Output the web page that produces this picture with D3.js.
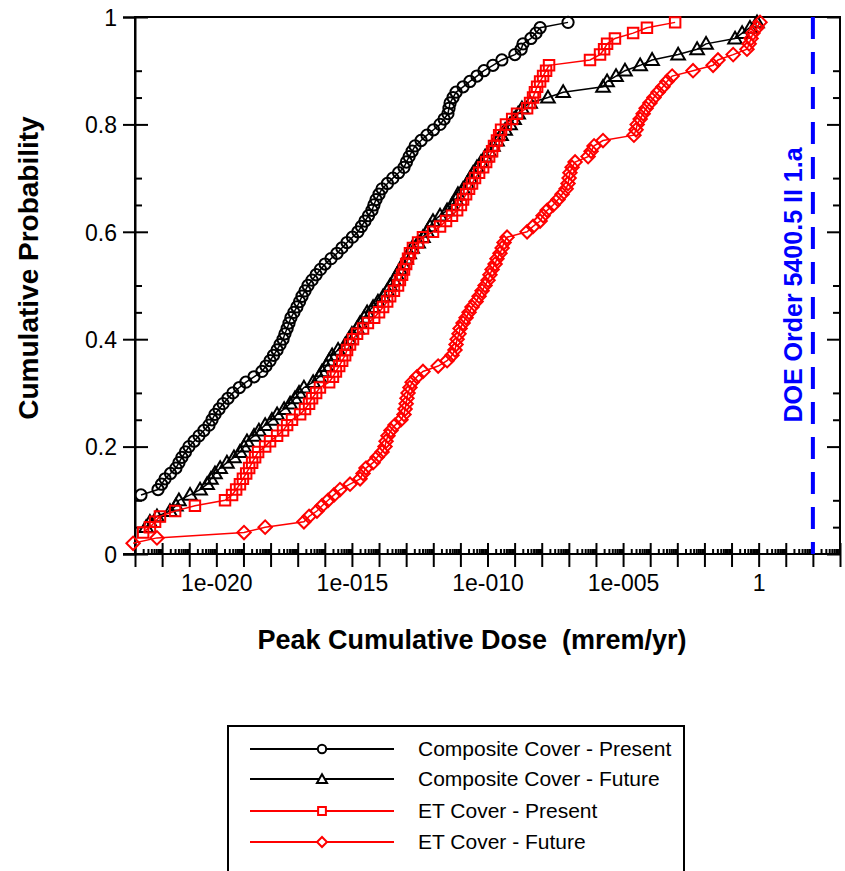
<!DOCTYPE html>
<html>
<head>
<meta charset="utf-8">
<script src="https://cdn.jsdelivr.net/npm/d3@7"></script>
<style>
  body { margin: 0; background: #fff; }
  svg { display: block; font-family: Arial, "Liberation Sans", sans-serif; }
</style>
</head>
<body>
<svg id="chart" width="845" height="871"></svg>
<script>

// log10 of peak cumulative dose (mrem/yr), sorted, one per realization
const compositePresent = [
    -22.78, -22.15, -22.02, -21.89, -21.69, -21.49, -21.38, -21.27, -21.14, -21.01,
    -20.82, -20.64, -20.46, -20.27, -20.16, -20.05, -19.90, -19.75, -19.57, -19.39,
    -19.15, -18.91, -18.61, -18.32, -18.17, -18.02, -17.89, -17.76, -17.65, -17.54,
    -17.47, -17.39, -17.32, -17.25, -17.14, -17.03, -16.93, -16.84, -16.73, -16.62,
    -16.47, -16.32, -16.16, -15.99, -15.77, -15.55, -15.37, -15.18, -14.98, -14.78,
    -14.65, -14.52, -14.39, -14.26, -14.19, -14.11, -14.00, -13.89, -13.69, -13.49,
    -13.28, -13.08, -12.99, -12.89, -12.78, -12.67, -12.45, -12.23, -11.99, -11.75,
    -11.60, -11.46, -11.42, -11.38, -11.27, -11.16, -10.90, -10.65, -10.39, -10.13,
    -9.80, -9.47, -8.99, -8.76, -8.69, -8.40, -8.21, -8.06, -7.03
];
const compositeFuture = [
    -22.59, -22.45, -22.19, -21.71, -21.49, -21.38, -20.97, -20.60, -20.34, -20.20,
    -20.05, -19.86, -19.61, -19.35, -19.13, -18.98, -18.87, -18.61, -18.43, -18.20,
    -17.95, -17.76, -17.50, -17.28, -17.10, -16.95, -16.77, -16.43, -16.21, -16.10,
    -15.95, -15.84, -15.73, -15.51, -15.25, -15.11, -15.00, -14.81, -14.70, -14.55,
    -14.44, -14.22, -14.04, -13.85, -13.70, -13.59, -13.45, -13.34, -13.23, -13.11,
    -13.00, -12.89, -12.78, -12.56, -12.38, -12.23, -12.12, -12.01, -11.75, -11.49,
    -11.31, -11.16, -11.09, -10.90, -10.75, -10.64, -10.53, -10.39, -10.24, -10.09,
    -9.94, -9.80, -9.65, -9.50, -9.35, -9.17, -9.02, -8.87, -8.73, -8.43,
    -7.77, -7.21, -5.74, -5.59, -5.26, -4.93, -4.37, -3.93, -2.97, -2.27,
    -1.94, -0.87, -0.61, -0.32, -0.06
];
const etPresent = [
    -22.70, -22.45, -22.26, -22.08, -21.52, -20.79, -19.68, -19.42, -19.27, -19.13,
    -19.02, -18.90, -18.79, -18.68, -18.57, -18.46, -18.20, -18.02, -17.76, -17.54,
    -17.39, -17.21, -16.91, -16.73, -16.58, -16.47, -16.32, -16.18, -15.84, -15.70,
    -15.59, -15.47, -15.36, -15.25, -15.18, -15.07, -14.96, -14.81, -14.59, -14.41,
    -14.18, -14.00, -13.85, -13.70, -13.59, -13.45, -13.30, -13.23, -13.15, -13.08,
    -13.00, -12.93, -12.86, -12.75, -12.56, -12.38, -12.01, -11.75, -11.53, -11.31,
    -11.12, -10.98, -10.90, -10.79, -10.68, -10.57, -10.46, -10.31, -10.16, -10.05,
    -9.94, -9.83, -9.76, -9.65, -9.57, -9.50, -9.32, -9.09, -8.91, -8.54,
    -8.43, -8.32, -8.25, -8.17, -8.06, -7.95, -7.84, -7.73, -6.22, -5.85,
    -5.70, -5.59, -5.30, -4.63, -4.12, -3.08
];
const etFuture = [
    -23.07, -22.19, -18.98, -18.20, -16.77, -16.58, -16.29, -16.10, -15.88, -15.66,
    -15.44, -15.07, -14.70, -14.59, -14.48, -14.22, -14.07, -13.89, -13.78, -13.74,
    -13.67, -13.56, -13.41, -13.19, -13.08, -13.04, -13.00, -12.97, -12.93, -12.86,
    -12.78, -12.60, -12.38, -11.82, -11.49, -11.31, -11.20, -11.16, -11.12, -11.05,
    -11.01, -10.90, -10.79, -10.68, -10.57, -10.42, -10.31, -10.20, -10.09, -9.98,
    -9.91, -9.83, -9.72, -9.65, -9.54, -9.46, -9.39, -9.28, -8.54, -8.32,
    -8.06, -7.95, -7.80, -7.58, -7.40, -7.25, -7.10, -7.03, -6.99, -6.96,
    -6.88, -6.77, -6.29, -6.18, -6.07, -5.74, -4.60, -4.52, -4.48, -4.37,
    -4.26, -4.15, -4.01, -3.86, -3.71, -3.53, -3.38, -3.19, -2.42, -1.68,
    -1.50, -0.94, -0.43, -0.35, -0.28, -0.21, -0.06, 0.05
];

// rank of the first plotted realization (the rest fall below the axis)
const seriesNames = ['Composite Cover - Present', 'Composite Cover - Future', 'ET Cover - Present', 'ET Cover - Future'];
const seriesValues = [compositePresent, compositeFuture, etPresent, etFuture];
const seriesFirstRank = [11, 5, 4, 2];
const realizations = 100;

const xTickValues = [1e-20, 1e-15, 1e-10, 1e-5, 1];
const xTickLabels = ['1e-020', '1e-015', '1e-010', '1e-005', '1'];
const yTickValues = [0, 0.2, 0.4, 0.6, 0.8, 1];
const yTickLabels = ['0', '0.2', '0.4', '0.6', '0.8', '1'];
const limitDose = 100;
const limitLabel = 'DOE Order 5400.5 II 1.a';

// ##################################################
// #  Layout                                        #
// ##################################################

let _left = 135, _right = 840, _top = 17, _bottom = 554;
let _fontTick = 23;
let styles = [
    { color: '#000', shape: 'circle' },
    { color: '#000', shape: 'triangle' },
    { color: '#ff0000', shape: 'square' },
    { color: '#ff0000', shape: 'diamond' }
];

let svg = d3.select('#chart');

let x = d3.scaleLog().domain([1e-23, 1e3]).range([_left, _right]);
let y = d3.scaleLinear().domain([0, 1]).range([_bottom, _top]);

function markerPath(shape, k) {
    if (shape === 'circle') return d3.symbol(d3.symbolCircle, 100 * k)();
    if (shape === 'triangle') return d3.symbol(d3.symbolTriangle, 80 * k)();
    if (shape === 'square') return d3.symbol(d3.symbolSquare, 110 * k)();
    return d3.symbol(d3.symbolSquare, 90 * k)();
}

function markerTransform(shape, px, py) {
    if (shape === 'diamond') return `translate(${px},${py}) rotate(45)`;
    if (shape === 'triangle') return `translate(${px},${py + 1})`;
    return `translate(${px},${py})`;
}

// ##################################################
// #  Axes                                          #
// ##################################################

let decades = d3.range(-23, 4).map(e => Math.pow(10, e));
let minors = [];
d3.range(-23, 3).forEach(e => {
    for (let m = 2; m <= 9; m++) minors.push(m * Math.pow(10, e));
});
let yMinors = d3.range(0, 21).map(i => i / 20).filter(v => Math.round(v * 10) % 2 !== 0);

function styleAxis(g) {
    g.select('.domain').attr('stroke', '#000').attr('stroke-width', 2);
    g.selectAll('.tick line').attr('stroke', '#000').attr('stroke-width', 2);
    g.selectAll('text').attr('font-size', _fontTick).attr('fill', '#000');
}

// frame
svg.append('rect')
    .attr('x', _left).attr('y', _top)
    .attr('width', _right - _left).attr('height', _bottom - _top)
    .attr('fill', 'none').attr('stroke', '#000').attr('stroke-width', 2);

// bottom: outward majors with labels
let xAxisG = svg.append('g')
    .attr('transform', `translate(0,${_bottom})`)
    .call(d3.axisBottom(x).tickValues(decades).tickSize(13)
        .tickFormat(d => {
            let i = xTickValues.findIndex(v => Math.abs(Math.log10(v) - Math.log10(d)) < 1e-6);
            return i >= 0 ? xTickLabels[i] : '';
        }))
    .call(styleAxis);
xAxisG.selectAll('text').attr('y', 37).attr('dy', null);
xAxisG.select('.domain').attr('d', `M${_left - 12},0H${_right}`);

svg.append('g')
    .attr('transform', `translate(0,${_bottom})`)
    .call(d3.axisBottom(x).tickValues(decades).tickSize(-11).tickFormat(''))
    .call(styleAxis)
    .select('.domain').remove();

svg.append('g')
    .attr('transform', `translate(0,${_bottom})`)
    .call(d3.axisBottom(x).tickValues(minors).tickSize(-5).tickFormat(''))
    .call(styleAxis)
    .select('.domain').remove();

// left
let yAxisG = svg.append('g')
    .attr('transform', `translate(${_left},0)`)
    .call(d3.axisLeft(y).tickValues(yTickValues).tickSize(12).tickPadding(6)
        .tickFormat((d, i) => yTickLabels[i]))
    .call(styleAxis);
yAxisG.selectAll('text').attr('dy', '0.36em');

svg.append('g')
    .attr('transform', `translate(${_left},0)`)
    .call(d3.axisLeft(y).tickValues(yTickValues).tickSize(-13).tickFormat(''))
    .call(styleAxis)
    .select('.domain').remove();

svg.append('g')
    .attr('transform', `translate(${_left},0)`)
    .call(d3.axisLeft(y).tickValues(yMinors).tickSize(-7).tickFormat(''))
    .call(styleAxis)
    .select('.domain').remove();

// right, inward only
svg.append('g')
    .attr('transform', `translate(${_right},0)`)
    .call(d3.axisRight(y).tickValues(yTickValues).tickSize(-13).tickFormat(''))
    .call(styleAxis)
    .select('.domain').remove();

svg.append('g')
    .attr('transform', `translate(${_right},0)`)
    .call(d3.axisRight(y).tickValues(yMinors).tickSize(-7).tickFormat(''))
    .call(styleAxis)
    .select('.domain').remove();

// titles
svg.append('text')
    .attr('x', 472).attr('y', 649)
    .attr('text-anchor', 'middle')
    .attr('font-size', 27).attr('font-weight', 'bold')
    .attr('xml:space', 'preserve')
    .text('Peak Cumulative Dose  (mrem/yr)');

svg.append('text')
    .attr('transform', `translate(38,${268}) rotate(-90)`)
    .attr('text-anchor', 'middle')
    .attr('font-size', 28).attr('font-weight', 'bold')
    .text('Cumulative Probability');

// ##################################################
// #  Limit line                                    #
// ##################################################

svg.append('line')
    .attr('x1', x(limitDose)).attr('x2', x(limitDose))
    .attr('y1', _top).attr('y2', _bottom)
    .attr('stroke', '#0000ff').attr('stroke-width', 4)
    .attr('stroke-dasharray', '22,13');

svg.append('text')
    .attr('transform', `translate(${x(limitDose) - 11},${285}) rotate(-90)`)
    .attr('text-anchor', 'middle')
    .attr('font-size', 25).attr('font-weight', 'bold')
    .attr('fill', '#0000ff')
    .text(limitLabel);

// ##################################################
// #  Series                                        #
// ##################################################

let line = d3.line()
    .x(d => x(Math.pow(10, d.logDose)))
    .y(d => y(d.prob));

seriesValues.forEach((values, s) => {
    let pts = values.map((v, i) => ({ logDose: v, prob: (seriesFirstRank[s] + i) / realizations }));
    let g = svg.append('g').attr('class', 'series');

    g.append('path')
        .datum(pts)
        .attr('d', line)
        .attr('fill', 'none')
        .attr('stroke', styles[s].color)
        .attr('stroke-width', 1.5);

    g.selectAll('.marker')
        .data(pts)
        .enter()
        .append('path')
        .attr('class', 'marker')
        .attr('d', markerPath(styles[s].shape, 1))
        .attr('transform', d => markerTransform(styles[s].shape, x(Math.pow(10, d.logDose)), y(d.prob)))
        .attr('fill', 'none')
        .attr('stroke', styles[s].color)
        .attr('stroke-width', 2);
});

// ##################################################
// #  Legend                                        #
// ##################################################

let legend = svg.append('g').attr('class', 'legend');
legend.append('rect')
    .attr('x', 228).attr('y', 726)
    .attr('width', 456).attr('height', 170)
    .attr('fill', '#fff').attr('stroke', '#000').attr('stroke-width', 2);

let rowY = [749, 779, 811, 842];
let items = legend.selectAll('.item')
    .data(seriesNames)
    .enter()
    .append('g')
    .attr('class', 'item')
    .attr('transform', (d, i) => `translate(0,${rowY[i]})`);

items.append('line')
    .attr('x1', 250).attr('x2', 394)
    .attr('stroke', (d, i) => styles[i].color)
    .attr('stroke-width', 2);

items.append('path')
    .attr('d', (d, i) => markerPath(styles[i].shape, 0.55))
    .attr('transform', (d, i) => markerTransform(styles[i].shape, 322, 0))
    .attr('fill', '#fff')
    .attr('stroke', (d, i) => styles[i].color)
    .attr('stroke-width', 2);

items.append('text')
    .attr('x', 418).attr('y', 7)
    .attr('font-size', 21)
    .text(d => d);

</script>
</body>
</html>
